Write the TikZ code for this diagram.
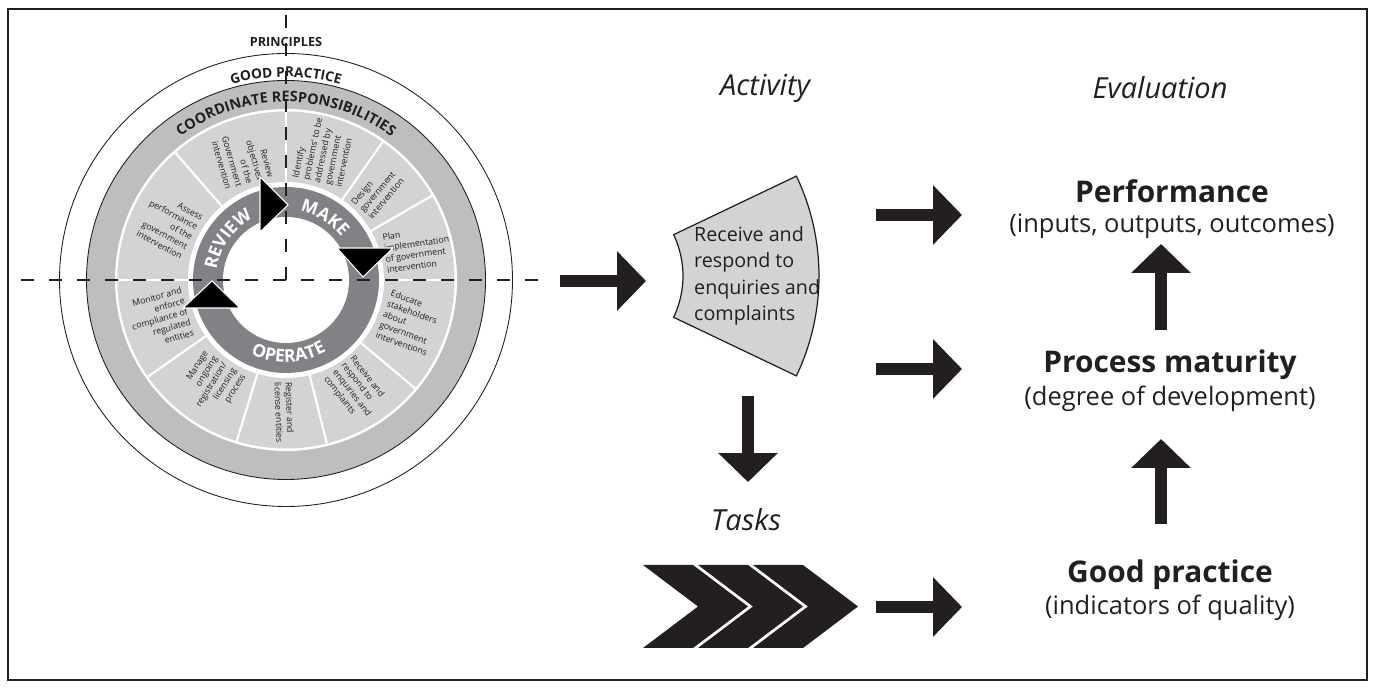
\documentclass[tikz,border=0pt]{standalone}
\usepackage{fontspec}
\setmainfont{Open Sans}
\usetikzlibrary{calc,positioning,arrows.meta,decorations.text}
\definecolor{ink}{RGB}{35,31,32}
\definecolor{bandgray}{RGB}{188,190,192}
\definecolor{sectgray}{RGB}{209,211,212}
\definecolor{ringgray}{RGB}{128,130,133}
\tikzset{
  blockarrow/.style={ink,line width=0.24cm,-{Triangle[length=0.58cm,width=1.16cm]}},
  axisline/.style={ink,line width=0.04cm,dash pattern=on 0.26cm off 0.3cm},
  sectortxt/.style={text=ink,inner sep=0pt,font=\fontsize{5}{6.3}\selectfont},
  headtxt/.style={text=ink,font=\fontsize{16.5}{19}\selectfont\itshape},
  titletxt/.style={text=ink,font=\fontsize{17}{20}\selectfont\bfseries},
  subtxt/.style={text=ink,font=\fontsize{14.5}{17}\selectfont},
  cyclehead/.style={fill=black,draw=white,line width=0.6pt}
}
\begin{document}
\begin{tikzpicture}[x=0.02cm,y=0.02cm]
      \useasboundingbox (0,0) rectangle (1375,689);
      \draw[ink,line width=0.035cm] (8,9) rectangle (1367,680);
      % wheel
      \coordinate (C) at (286,409);
      \draw[ink,line width=0.5pt] (C) circle[radius=226.5];
      \filldraw[fill=bandgray,draw=ink,line width=0.5pt] (C) circle[radius=199.5];
      \fill[white] (C) circle[radius=171];
      \fill[sectgray] (C) circle[radius=168.5];
      \foreach \a in {0,30,55,90,131,180,215,253,284,320}
        \draw[white,line width=1.2pt] ([shift={(\a:96)}]C) -- ([shift={(\a:170)}]C);
      \fill[white] (C) circle[radius=98];
      \fill[ringgray] (C) circle[radius=93];
      \fill[white] (C) circle[radius=63];
      \path[decorate,decoration={text along path,text align=center,
            text={|\fontsize{8.2}{9}\selectfont\bfseries\color{ink}|COORDINATE RESPONSIBILITIES}}]
            ([shift={(150:178)}]C) arc[start angle=150,end angle=30,radius=178];
      \path[decorate,decoration={text along path,text align=center,
            text={|\fontsize{7.8}{8}\selectfont\bfseries\color{ink}|GOOD PRACTICE}}]
            ([shift={(120:203)}]C) arc[start angle=120,end angle=60,radius=203];
      \path[decorate,decoration={text along path,text align=center,
            text={|\fontsize{10}{10}\selectfont\bfseries\color{white}|MAKE}}]
            ([shift={(90:70)}]C) arc[start angle=90,end angle=26,radius=70];
      \path[decorate,decoration={text along path,text align=center,
            text={|\fontsize{10}{10}\selectfont\bfseries\color{white}|REVIEW}}]
            ([shift={(172:70)}]C) arc[start angle=172,end angle=118,radius=70];
      \path[decorate,decoration={text along path,text align=center,
            text={|\fontsize{10}{10}\selectfont\bfseries\color{white}|OPERATE}}]
            ([shift={(240:82)}]C) arc[start angle=240,end angle=304,radius=82];
      \node[text=ink,font=\fontsize{7.2}{8}\selectfont\bfseries] (principles) at (286,647) {PRINCIPLES};
      \node[sectortxt,anchor=west,align=left,rotate=78] (sIdentify) at ([shift={(72.5:102)}]C)
            {Identify\\problems' to be\\addressed by\\government\\intervention};
      \node[sectortxt,anchor=west,align=left,rotate=50] (sDesign) at ([shift={(42.5:102)}]C)
            {Design\\government\\intervention};
      \node[sectortxt,anchor=west,align=left,rotate=8] (sPlan) at ([shift={(15:102)}]C)
            {Plan\\implementation\\of government\\intervention};
      \node[sectortxt,anchor=west,align=left,rotate=-20] (sEducate) at ([shift={(-19:103)}]C)
            {Educate\\stakeholders\\about\\government\\interventions};
      \node[sectortxt,anchor=west,align=left,rotate=-52] (sReceive) at ([shift={(-59:102)}]C)
            {Receive and\\respond to\\enquiries and\\complaints};
      \node[sectortxt,anchor=west,align=left,rotate=-88] (sRegister) at ([shift={(-91.5:102)}]C)
            {Register and\\license entities};
      \node[sectortxt,anchor=east,align=right,rotate=58] (sManage) at ([shift={(234:103)}]C)
            {Manage\\ongoing\\registration/\\licensing\\process};
      \node[sectortxt,anchor=east,align=right,rotate=16] (sMonitor) at ([shift={(197.5:103)}]C)
            {Monitor and\\enforce\\compliance of\\regulated\\entities};
      \node[sectortxt,anchor=east,align=right,rotate=-28] (sAssess) at ([shift={(155.5:103)}]C)
            {Assess\\performance\\of the\\government\\intervention};
      \node[sectortxt,anchor=east,align=right,rotate=-74] (sReview) at ([shift={(110.5:103)}]C)
            {Review\\objectives\\of the\\Government\\intervention};
      \filldraw[cyclehead] (260,512) -- (260,457) -- (288,484) -- cycle;
      \filldraw[cyclehead] (337,441) -- (393,441) -- (363,412) -- cycle;
      \filldraw[cyclehead] (183,381) -- (240,381) -- (212,408) -- cycle;
      \draw[axisline] (21,409) -- (540,409);
      \draw[axisline] (C) -- (286,675);
      % activity
      \coordinate (W) at (587,413);
      \filldraw[fill=sectgray,draw=ink,line width=0.7pt]
            ([shift={(25.5:96)}]W) -- ([shift={(25.5:232)}]W)
            arc[start angle=25.5,end angle=-25.5,radius=232]
            -- ([shift={(-25.5:96)}]W) arc[start angle=-25.5,end angle=25.5,radius=96] -- cycle;
      \node[anchor=west,align=left,text=ink,font=\fontsize{11.2}{15}\selectfont] (activitytxt) at (688,413)
            {Receive and\\respond to\\enquiries and\\complaints};
      \node[headtxt] (activity) at (765,601) {Activity};
      \node[headtxt] (evaluation) at (1160,601) {Evaluation};
      \node[headtxt] (tasks) at (746,169) {Tasks};
      \foreach \x in {643,698,753}
        \fill[ink] (\x,124) -- ++(50,0) -- ++(55,-41.5) -- ++(-55,-41.5) -- ++(-50,0) -- ++(55,41.5) -- cycle;
      % evaluation column
      \node[titletxt] (perf) at (1172,498) {Performance};
      \node[subtxt] (perfsub) at (1172,463) {(inputs, outputs, outcomes)};
      \node[titletxt] (proc) at (1170,324) {Process maturity};
      \node[subtxt] (procsub) at (1170,290) {(degree of development)};
      \node[titletxt] (good) at (1170,114) {Good practice};
      \node[subtxt] (goodsub) at (1170,81) {(indicators of quality)};
      \coordinate (wheelout) at (560,408);   \coordinate (wedgein) at (646,408);
      \coordinate (wedgeout) at (748,293);   \coordinate (tasksin) at (748,207);
      \coordinate (perfA) at (876,474);      \coordinate (perfB) at (962,474);
      \coordinate (procA) at (876,320);      \coordinate (procB) at (962,320);
      \coordinate (goodA) at (876,82);       \coordinate (goodB) at (962,82);
      \coordinate (upA) at (1161,165);       \coordinate (upB) at (1161,250);
      \coordinate (upC) at (1161,359);       \coordinate (upD) at (1161,445);
      \draw[blockarrow] (wheelout) -- (wedgein);
      \draw[blockarrow] (wedgeout) -- (tasksin);
      \draw[blockarrow] (perfA) -- (perfB);
      \draw[blockarrow] (procA) -- (procB);
      \draw[blockarrow] (goodA) -- (goodB);
      \draw[blockarrow] (upA) -- (upB);
      \draw[blockarrow] (upC) -- (upD);
\end{tikzpicture}
\end{document}
